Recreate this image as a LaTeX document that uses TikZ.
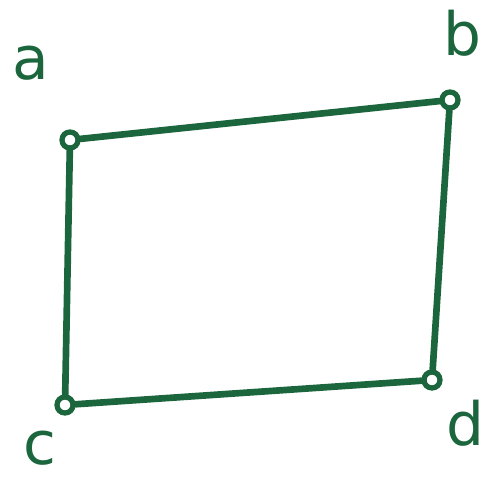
\documentclass[tikz,border=0pt]{standalone}
\usepackage{fontspec}
\setmainfont{DejaVu Sans}
\usepackage{tikz}
\definecolor{penGreen}{RGB}{28,102,62}
\tikzset{
    vertex/.style={draw=penGreen, circle, line width=3pt, inner sep=0pt,
        minimum width=0.26cm, minimum height=0.32cm},
    edge/.style={draw=penGreen, line width=3.8pt, line cap=round},
    letter/.style={text=penGreen, font=\fontsize{34}{38}\selectfont}
}

\begin{document}
\begin{tikzpicture}
    % Fix the page to the size of the sheet
    \useasboundingbox (0,0) rectangle (9.94,9.62);

    % Draw the vertices
    \node[vertex] (a) at (1.4,6.82) {};
    \node[vertex] (b) at (9.0,7.62) {};
    \node[vertex] (c) at (1.3,1.52) {};
    \node[vertex] (d) at (8.64,2.02) {};

    % Labels of the vertices
    \node[letter] (la) at (0.62,8.35) {a};
    \node[letter] (lb) at (9.24,8.95) {b};
    \node[letter] (lc) at (0.8,0.65) {c};
    \node[letter] (ld) at (9.3,1.15) {d};

    % Draw the edges
    \draw[edge] (a) -- (b);
    \draw[edge] (a) -- (c);
    \draw[edge] (b) -- (d);
    \draw[edge] (c) -- (d);

\end{tikzpicture}
\end{document}
